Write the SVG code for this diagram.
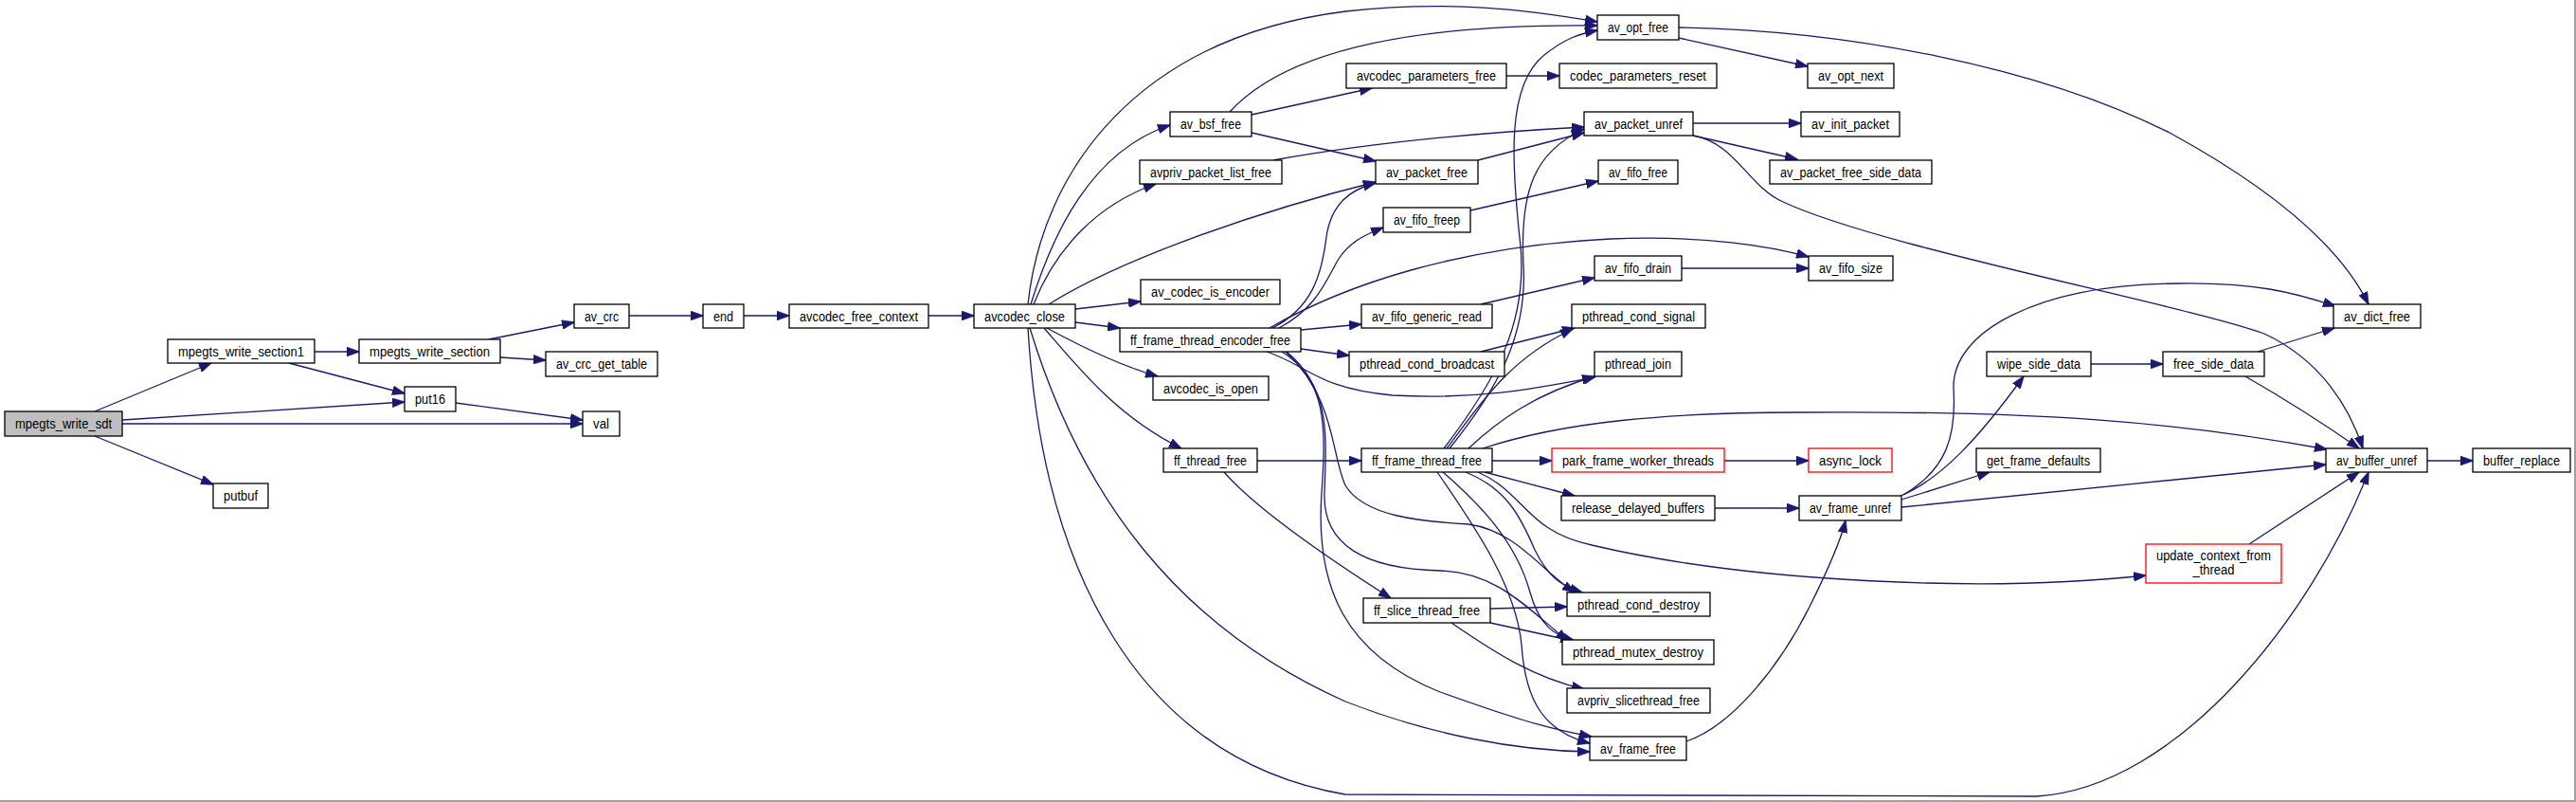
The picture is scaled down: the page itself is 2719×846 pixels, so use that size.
<svg xmlns="http://www.w3.org/2000/svg" width="2719" height="846" viewBox="0 0 2719 846">
<defs>
<marker id="arr" markerWidth="14" markerHeight="10" refX="13" refY="5" orient="auto" markerUnits="userSpaceOnUse">
<path d="M0,0 L14,5 L0,10 z" fill="#191970" stroke="#191970" stroke-width="0.5"/>
</marker>
</defs>
<style>
.node rect{fill:#ffffff;stroke:#000000;stroke-width:1.3}
.node.root rect{fill:#bfbfbf}
.node.red rect{stroke:#ff0000}
.node text{font-family:"Liberation Sans",Arial,sans-serif;font-size:14px;fill:#000000;text-anchor:middle}
.edges path{fill:none;stroke:#191970;stroke-width:1.3;marker-end:url(#arr)}
.frame{stroke:#a0a0a0;stroke-width:2;fill:none}
</style>
<rect x="0" y="0" width="2719" height="846" fill="#ffffff"/>
<path class="frame" d="M2718,0 L2718,845 L0,845"/>
<g id="edges" class="edges">
<path d="M100,434 L223,383"/>
<path d="M129,443 L427,424"/>
<path d="M129,447 L615,447"/>
<path d="M100,460 L225,511"/>
<path d="M332,371 L379,371"/>
<path d="M305,383 L427,415"/>
<path d="M516,358 L606,340"/>
<path d="M528,377 L576,380"/>
<path d="M481,425 L615,443"/>
<path d="M664,333 L742,333"/>
<path d="M785,333 L833,333"/>
<path d="M980,333 L1028,333"/>
<path d="M1085,321 C1100,180 1200,40 1420,12 C1530,0 1610,10 1686,23"/>
<path d="M1088,321 C1110,250 1150,160 1235,132"/>
<path d="M1091,321 C1115,260 1160,215 1220,194"/>
<path d="M1107,321 C1180,275 1320,225 1452,192"/>
<path d="M1135,326 L1204,318"/>
<path d="M1135,340 L1182,346"/>
<path d="M1105,346 C1140,365 1180,385 1222,397"/>
<path d="M1102,346 C1140,390 1180,440 1247,473"/>
<path d="M1087,346 C1140,520 1240,660 1420,740 C1510,775 1600,792 1678,793"/>
<path d="M1085,346 C1100,600 1200,800 1420,838 L2150,840 C2300,830 2440,650 2500,498"/>
<path d="M1373,348 L1437,342"/>
<path d="M1373,368 L1424,375"/>
<path d="M1337,371 C1380,385 1390,410 1470,417 C1560,422 1620,410 1683,398"/>
<path d="M1343,346 C1385,325 1395,290 1400,250 C1405,215 1425,200 1452,193"/>
<path d="M1350,346 C1390,325 1400,295 1413,273 C1425,255 1440,248 1460,240"/>
<path d="M1340,346 C1420,300 1540,260 1700,252 C1800,248 1870,260 1909,271"/>
<path d="M1353,371 C1400,400 1400,450 1395,520 C1388,620 1420,690 1520,730 C1590,755 1630,768 1680,777"/>
<path d="M1358,371 C1405,410 1400,460 1398,520 C1396,575 1440,600 1520,602 C1580,604 1610,640 1655,676"/>
<path d="M1357,371 C1410,420 1405,480 1420,512 C1440,545 1500,550 1550,553 C1600,560 1625,600 1662,625"/>
<path d="M1327,486 L1437,486"/>
<path d="M1292,498 C1320,530 1380,575 1468,631"/>
<path d="M1575,486 L1638,486"/>
<path d="M1820,486 L1909,486"/>
<path d="M1567,498 L1662,523"/>
<path d="M1810,536 L1899,536"/>
<path d="M1527,473 C1560,430 1590,380 1660,347"/>
<path d="M1550,473 C1580,445 1620,415 1684,397"/>
<path d="M1524,473 C1580,400 1612,340 1605,260 C1595,170 1590,90 1630,58 C1650,42 1665,36 1686,32"/>
<path d="M1530,473 C1585,405 1612,350 1608,280 C1604,200 1620,160 1672,136"/>
<path d="M1565,473 C1650,445 1760,435 1900,435 C2150,433 2300,445 2456,474"/>
<path d="M1560,498 C1610,520 1610,560 1680,575 C1850,615 2100,625 2265,607"/>
<path d="M1547,498 C1590,515 1605,545 1620,580 C1635,610 1648,618 1670,625"/>
<path d="M1523,498 C1560,530 1600,570 1615,625 C1625,660 1640,670 1662,676"/>
<path d="M1517,498 C1560,560 1600,620 1606,680 C1610,740 1630,772 1678,784"/>
<path d="M1573,642 L1654,640"/>
<path d="M1573,657 L1660,676"/>
<path d="M1532,657 C1580,690 1620,715 1672,727"/>
<path d="M1780,782 C1830,765 1880,700 1910,640 C1930,600 1943,570 1948,549"/>
<path d="M2006,523 C2050,505 2090,460 2136,397"/>
<path d="M2007,527 L2100,498"/>
<path d="M2007,535 L2455,490"/>
<path d="M2009,522 C2055,495 2065,460 2062,410 C2060,350 2150,300 2300,299 C2380,298 2420,308 2465,323"/>
<path d="M2207,384 L2283,384"/>
<path d="M2383,371 L2464,346"/>
<path d="M2370,397 C2410,420 2450,445 2490,473"/>
<path d="M2562,486 L2610,486"/>
<path d="M2374,574 L2490,498"/>
<path d="M1772,40 L1908,70"/>
<path d="M1772,29 C1950,32 2150,70 2290,140 C2400,200 2470,260 2500,321"/>
<path d="M1590,80 L1646,80"/>
<path d="M1321,121 L1448,93"/>
<path d="M1321,140 L1452,170"/>
<path d="M1298,118 C1360,50 1500,25 1686,27"/>
<path d="M1344,169 C1450,150 1560,140 1672,134"/>
<path d="M1560,169 L1672,140"/>
<path d="M1787,130 L1901,130"/>
<path d="M1787,143 L1897,168"/>
<path d="M1787,143 C1830,150 1845,195 1880,212 C1980,260 2300,320 2390,352 C2450,380 2480,430 2494,473"/>
<path d="M1552,222 L1687,191"/>
<path d="M1563,321 L1683,293"/>
<path d="M1775,283 L1909,283"/>
<path d="M1563,371 L1662,346"/>
</g>
<g id="n_mpegts_write_sdt" class="node root"><rect x="5" y="434" width="124" height="26"/><text x="67" y="452" textLength="102" lengthAdjust="spacingAndGlyphs">mpegts_write_sdt</text></g>
<g id="n_mpegts_write_section1" class="node"><rect x="177" y="358" width="155" height="25"/><text x="254.5" y="375.5" textLength="133" lengthAdjust="spacingAndGlyphs">mpegts_write_section1</text></g>
<g id="n_mpegts_write_section" class="node"><rect x="379" y="358" width="149" height="25"/><text x="453.5" y="375.5" textLength="127" lengthAdjust="spacingAndGlyphs">mpegts_write_section</text></g>
<g id="n_av_crc" class="node"><rect x="606" y="321" width="58" height="25"/><text x="635" y="338.5" textLength="36" lengthAdjust="spacingAndGlyphs">av_crc</text></g>
<g id="n_av_crc_get_table" class="node"><rect x="576" y="371" width="118" height="26"/><text x="635" y="389" textLength="96" lengthAdjust="spacingAndGlyphs">av_crc_get_table</text></g>
<g id="n_put16" class="node"><rect x="427" y="408" width="54" height="26"/><text x="454" y="426" textLength="32" lengthAdjust="spacingAndGlyphs">put16</text></g>
<g id="n_val" class="node"><rect x="615" y="434" width="39" height="26"/><text x="634.5" y="452" textLength="17" lengthAdjust="spacingAndGlyphs">val</text></g>
<g id="n_putbuf" class="node"><rect x="225" y="510" width="58" height="26"/><text x="254" y="528" textLength="36" lengthAdjust="spacingAndGlyphs">putbuf</text></g>
<g id="n_end" class="node"><rect x="742" y="321" width="43" height="25"/><text x="763.5" y="338.5" textLength="21" lengthAdjust="spacingAndGlyphs">end</text></g>
<g id="n_avcodec_free_context" class="node"><rect x="833" y="321" width="147" height="25"/><text x="906.5" y="338.5" textLength="125" lengthAdjust="spacingAndGlyphs">avcodec_free_context</text></g>
<g id="n_avcodec_close" class="node"><rect x="1028" y="321" width="107" height="25"/><text x="1081.5" y="338.5" textLength="85" lengthAdjust="spacingAndGlyphs">avcodec_close</text></g>
<g id="n_av_codec_is_encoder" class="node"><rect x="1204" y="295" width="147" height="26"/><text x="1277.5" y="313" textLength="125" lengthAdjust="spacingAndGlyphs">av_codec_is_encoder</text></g>
<g id="n_ff_frame_thread_encoder_free" class="node"><rect x="1182" y="346" width="191" height="25"/><text x="1277.5" y="363.5" textLength="169" lengthAdjust="spacingAndGlyphs">ff_frame_thread_encoder_free</text></g>
<g id="n_avcodec_is_open" class="node"><rect x="1217" y="397" width="122" height="25"/><text x="1278" y="414.5" textLength="100" lengthAdjust="spacingAndGlyphs">avcodec_is_open</text></g>
<g id="n_ff_thread_free" class="node"><rect x="1228" y="473" width="99" height="25"/><text x="1277.5" y="490.5" textLength="77" lengthAdjust="spacingAndGlyphs">ff_thread_free</text></g>
<g id="n_av_opt_free" class="node"><rect x="1686" y="16" width="86" height="26"/><text x="1729" y="34" textLength="64" lengthAdjust="spacingAndGlyphs">av_opt_free</text></g>
<g id="n_avcodec_parameters_free" class="node"><rect x="1421" y="67" width="169" height="26"/><text x="1505.5" y="85" textLength="147" lengthAdjust="spacingAndGlyphs">avcodec_parameters_free</text></g>
<g id="n_codec_parameters_reset" class="node"><rect x="1646" y="67" width="166" height="26"/><text x="1729" y="85" textLength="144" lengthAdjust="spacingAndGlyphs">codec_parameters_reset</text></g>
<g id="n_av_bsf_free" class="node"><rect x="1235" y="118" width="86" height="26"/><text x="1278" y="136" textLength="64" lengthAdjust="spacingAndGlyphs">av_bsf_free</text></g>
<g id="n_av_packet_unref" class="node"><rect x="1672" y="118" width="115" height="25"/><text x="1729.5" y="135.5" textLength="93" lengthAdjust="spacingAndGlyphs">av_packet_unref</text></g>
<g id="n_avpriv_packet_list_free" class="node"><rect x="1203" y="169" width="150" height="25"/><text x="1278" y="186.5" textLength="128" lengthAdjust="spacingAndGlyphs">avpriv_packet_list_free</text></g>
<g id="n_av_packet_free" class="node"><rect x="1452" y="169" width="108" height="25"/><text x="1506" y="186.5" textLength="86" lengthAdjust="spacingAndGlyphs">av_packet_free</text></g>
<g id="n_av_fifo_free" class="node"><rect x="1687" y="169" width="84" height="25"/><text x="1729" y="186.5" textLength="62" lengthAdjust="spacingAndGlyphs">av_fifo_free</text></g>
<g id="n_av_fifo_freep" class="node"><rect x="1460" y="219" width="92" height="26"/><text x="1506" y="237" textLength="70" lengthAdjust="spacingAndGlyphs">av_fifo_freep</text></g>
<g id="n_av_fifo_drain" class="node"><rect x="1683" y="270" width="92" height="26"/><text x="1729" y="288" textLength="70" lengthAdjust="spacingAndGlyphs">av_fifo_drain</text></g>
<g id="n_av_opt_next" class="node"><rect x="1908" y="67" width="91" height="26"/><text x="1953.5" y="85" textLength="69" lengthAdjust="spacingAndGlyphs">av_opt_next</text></g>
<g id="n_av_init_packet" class="node"><rect x="1901" y="118" width="104" height="26"/><text x="1953" y="136" textLength="82" lengthAdjust="spacingAndGlyphs">av_init_packet</text></g>
<g id="n_av_packet_free_side_data" class="node"><rect x="1868" y="169" width="171" height="25"/><text x="1953.5" y="186.5" textLength="149" lengthAdjust="spacingAndGlyphs">av_packet_free_side_data</text></g>
<g id="n_av_fifo_size" class="node"><rect x="1909" y="270" width="89" height="26"/><text x="1953.5" y="288" textLength="67" lengthAdjust="spacingAndGlyphs">av_fifo_size</text></g>
<g id="n_av_fifo_generic_read" class="node"><rect x="1437" y="321" width="138" height="25"/><text x="1506" y="338.5" textLength="116" lengthAdjust="spacingAndGlyphs">av_fifo_generic_read</text></g>
<g id="n_pthread_cond_signal" class="node"><rect x="1659" y="321" width="141" height="25"/><text x="1729.5" y="338.5" textLength="119" lengthAdjust="spacingAndGlyphs">pthread_cond_signal</text></g>
<g id="n_pthread_cond_broadcast" class="node"><rect x="1424" y="371" width="164" height="26"/><text x="1506" y="389" textLength="142" lengthAdjust="spacingAndGlyphs">pthread_cond_broadcast</text></g>
<g id="n_pthread_join" class="node"><rect x="1683" y="371" width="92" height="26"/><text x="1729" y="389" textLength="70" lengthAdjust="spacingAndGlyphs">pthread_join</text></g>
<g id="n_ff_frame_thread_free" class="node"><rect x="1437" y="473" width="138" height="25"/><text x="1506" y="490.5" textLength="116" lengthAdjust="spacingAndGlyphs">ff_frame_thread_free</text></g>
<g id="n_park_frame_worker_threads" class="node red"><rect x="1638" y="473" width="182" height="25"/><text x="1729" y="490.5" textLength="160" lengthAdjust="spacingAndGlyphs">park_frame_worker_threads</text></g>
<g id="n_async_lock" class="node red"><rect x="1909" y="473" width="88" height="25"/><text x="1953" y="490.5" textLength="66" lengthAdjust="spacingAndGlyphs">async_lock</text></g>
<g id="n_release_delayed_buffers" class="node"><rect x="1648" y="523" width="162" height="26"/><text x="1729" y="541" textLength="140" lengthAdjust="spacingAndGlyphs">release_delayed_buffers</text></g>
<g id="n_av_frame_unref" class="node"><rect x="1899" y="523" width="108" height="26"/><text x="1953" y="541" textLength="86" lengthAdjust="spacingAndGlyphs">av_frame_unref</text></g>
<g id="n_ff_slice_thread_free" class="node"><rect x="1439" y="631" width="134" height="26"/><text x="1506" y="649" textLength="112" lengthAdjust="spacingAndGlyphs">ff_slice_thread_free</text></g>
<g id="n_pthread_cond_destroy" class="node"><rect x="1654" y="625" width="151" height="25"/><text x="1729.5" y="642.5" textLength="129" lengthAdjust="spacingAndGlyphs">pthread_cond_destroy</text></g>
<g id="n_pthread_mutex_destroy" class="node"><rect x="1649" y="675" width="160" height="26"/><text x="1729" y="693" textLength="138" lengthAdjust="spacingAndGlyphs">pthread_mutex_destroy</text></g>
<g id="n_avpriv_slicethread_free" class="node"><rect x="1654" y="726" width="151" height="26"/><text x="1729.5" y="744" textLength="129" lengthAdjust="spacingAndGlyphs">avpriv_slicethread_free</text></g>
<g id="n_av_frame_free" class="node"><rect x="1678" y="777" width="102" height="25"/><text x="1729" y="794.5" textLength="80" lengthAdjust="spacingAndGlyphs">av_frame_free</text></g>
<g id="n_av_dict_free" class="node"><rect x="2463" y="321" width="92" height="25"/><text x="2509" y="338.5" textLength="70" lengthAdjust="spacingAndGlyphs">av_dict_free</text></g>
<g id="n_wipe_side_data" class="node"><rect x="2097" y="371" width="110" height="26"/><text x="2152" y="389" textLength="88" lengthAdjust="spacingAndGlyphs">wipe_side_data</text></g>
<g id="n_free_side_data" class="node"><rect x="2283" y="371" width="107" height="26"/><text x="2336.5" y="389" textLength="85" lengthAdjust="spacingAndGlyphs">free_side_data</text></g>
<g id="n_get_frame_defaults" class="node"><rect x="2086" y="473" width="131" height="25"/><text x="2151.5" y="490.5" textLength="109" lengthAdjust="spacingAndGlyphs">get_frame_defaults</text></g>
<g id="n_av_buffer_unref" class="node"><rect x="2455" y="473" width="107" height="25"/><text x="2508.5" y="490.5" textLength="85" lengthAdjust="spacingAndGlyphs">av_buffer_unref</text></g>
<g id="n_buffer_replace" class="node"><rect x="2610" y="473" width="103" height="25"/><text x="2661.5" y="490.5" textLength="81" lengthAdjust="spacingAndGlyphs">buffer_replace</text></g>
<g id="n_update_context_from_thread" class="node red"><rect x="2265" y="574" width="143" height="41"/><text x="2336.5" y="591" textLength="121" lengthAdjust="spacingAndGlyphs">update_context_from</text><text x="2336.5" y="606" textLength="44" lengthAdjust="spacingAndGlyphs">_thread</text></g>
</svg>
